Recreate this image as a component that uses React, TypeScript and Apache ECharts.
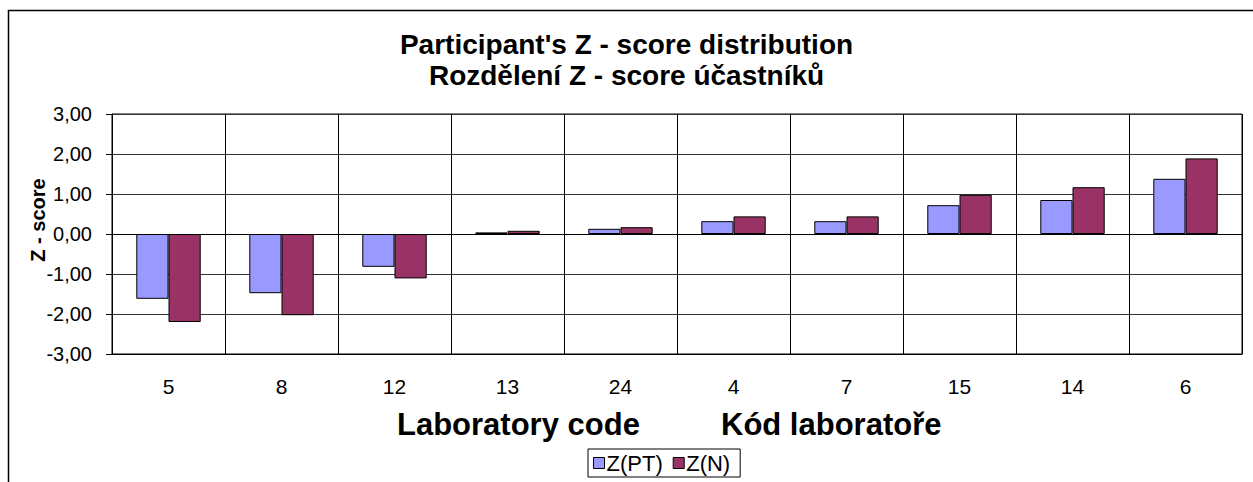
import React, { useEffect, useRef } from "react";
import * as echarts from "echarts";

const categories = ["5", "8", "12", "13", "24", "4", "7", "15", "14", "6"];
const zPT = [-1.62, -1.48, -0.82, 0.04, 0.13, 0.32, 0.32, 0.72, 0.85, 1.38];
const zN = [-2.2, -2.03, -1.11, 0.08, 0.17, 0.44, 0.44, 0.98, 1.17, 1.89];
const seriesNames = ["Z(PT)", "Z(N)"];
const titleLines = ["Participant's Z - score distribution", "Rozdělení Z - score účastníků"];
const xNames = ["Laboratory code", "Kód laboratoře"];
const yName = "Z - score";

const FONT = "'Liberation Sans', Arial, sans-serif";

export default function App() {
  const ref = useRef<HTMLDivElement>(null);
  useEffect(() => {
    document.body.style.margin = "0";
    const chart = echarts.init(ref.current!, null, { renderer: "svg" });
    chart.setOption({
      animation: false,
      backgroundColor: "#fff",
      textStyle: { fontFamily: FONT, color: "#000" },
      title: {
        text: titleLines.join("\n"),
        left: "center",
        top: 29,
        padding: 0,
        textStyle: { fontFamily: FONT, fontSize: 28, fontWeight: "bold", color: "#000", lineHeight: 31 },
      },
      grid: { left: 112, right: 11, top: 114, bottom: 128, show: true, borderColor: "#000", borderWidth: 1 },
      legend: {
        data: seriesNames,
        left: 588,
        top: 449,
        padding: [3, 10, 3, 5],
        borderColor: "#000",
        borderWidth: 1,
        itemWidth: 11,
        itemHeight: 11,
        itemGap: 10,
        icon: "rect",
        itemStyle: { borderColor: "#000", borderWidth: 1 },
        textStyle: { fontFamily: FONT, fontSize: 22, color: "#000", padding: [0, 0, 0, -3] },
      },
      xAxis: [
        {
          type: "category",
          data: categories,
          position: "bottom",
          axisLine: { onZero: false, lineStyle: { color: "#000", width: 1 } },
          axisTick: { show: false },
          axisLabel: { fontFamily: FONT, fontSize: 21, color: "#000", margin: 22 },
          splitLine: { show: true, lineStyle: { color: "#000", width: 1 } },
        },
        {
          type: "category",
          data: categories,
          position: "top",
          axisLine: { onZero: true, lineStyle: { color: "#000", width: 1 } },
          axisTick: { show: true, inside: true, length: 6, lineStyle: { color: "#000" } },
          axisLabel: { show: false },
          splitLine: { show: false },
        },
      ],
      yAxis: {
        type: "value",
        min: -3,
        max: 3,
        interval: 1,
        axisLine: { show: true, lineStyle: { color: "#000", width: 1 } },
        axisTick: { show: true, length: 6, lineStyle: { color: "#000" } },
        axisLabel: {
          fontFamily: FONT,
          fontSize: 20,
          color: "#000",
          margin: 20,
          formatter: (v: number) => v.toFixed(2).replace(".", ","),
        },
        splitLine: { show: true, lineStyle: { color: "#333", width: 1 } },
      },
      series: [
        {
          name: seriesNames[0],
          type: "bar",
          data: zPT,
          barGap: "0%",
          barCategoryGap: "43%",
          itemStyle: { color: "#9999FF", borderColor: "#000", borderWidth: 1 },
        },
        {
          name: seriesNames[1],
          type: "bar",
          data: zN,
          barGap: "0%",
          barCategoryGap: "43%",
          itemStyle: { color: "#993366", borderColor: "#000", borderWidth: 1 },
        },
      ],
      graphic: [
        {
          type: "rect",
          shape: { x: 8.5, y: 10.5, width: 1400, height: 700 },
          style: { fill: "none", stroke: "#000", lineWidth: 1.5 },
          silent: true,
        },
        {
          type: "text",
          x: 38,
          y: 220,
          rotation: Math.PI / 2,
          style: {
            text: yName,
            fontFamily: FONT,
            fontSize: 20,
            fontWeight: "bold",
            fill: "#000",
            textAlign: "center",
            textVerticalAlign: "middle",
          },
        },
        {
          type: "text",
          x: 397,
          y: 424,
          style: {
            text: xNames[0],
            fontFamily: FONT,
            fontSize: 31,
            fontWeight: "bold",
            fill: "#000",
            textAlign: "left",
            textVerticalAlign: "middle",
          },
        },
        {
          type: "text",
          x: 721,
          y: 424,
          style: {
            text: xNames[1],
            fontFamily: FONT,
            fontSize: 31,
            fontWeight: "bold",
            fill: "#000",
            textAlign: "left",
            textVerticalAlign: "middle",
          },
        },
      ],
    });
    return () => chart.dispose();
  }, []);
  return <div ref={ref} style={{ width: 1253, height: 482 }} />;
}
